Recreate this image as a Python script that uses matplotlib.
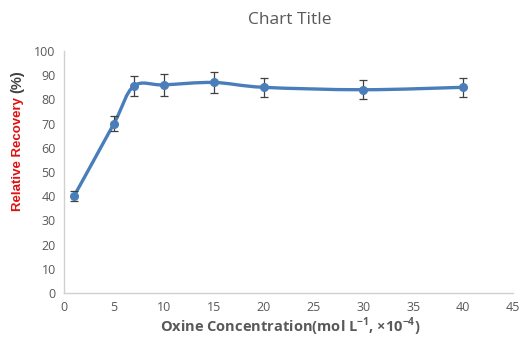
import matplotlib.pyplot as plt
from matplotlib.path import Path
from matplotlib.patches import PathPatch

# values
conc = [1, 5, 7, 10, 15, 20, 30, 40]
recovery = [40, 70, 85.5, 86, 87, 85, 84, 85]
err = [2, 3, 4, 4.5, 4.5, 4, 4, 4]

blue = '#4a7ebb'
grey = '#595959'

plt.rcParams['font.family'] = ['Open Sans', 'DejaVu Sans']
plt.rcParams['mathtext.fontset'] = 'custom'
plt.rcParams['mathtext.rm'] = 'Open Sans'
plt.rcParams['mathtext.bf'] = 'Open Sans:bold'

fig = plt.figure(figsize=(5.22, 3.40), dpi=100)
ax = fig.add_axes([0.1226, 0.138, 0.8604, 0.712])

# smoothed line like excel (catmull-rom style bezier through the points)
pts = list(zip(conc, recovery))
verts = [pts[0]]
codes = [Path.MOVETO]
for i in range(len(pts) - 1):
    p0 = pts[i - 1] if i > 0 else pts[i]
    p1 = pts[i]
    p2 = pts[i + 1]
    p3 = pts[i + 2] if i + 2 < len(pts) else pts[i + 1]
    c1 = (p1[0] + (p2[0] - p0[0]) / 6, p1[1] + (p2[1] - p0[1]) / 6)
    c2 = (p2[0] - (p3[0] - p1[0]) / 6, p2[1] - (p3[1] - p1[1]) / 6)
    verts += [c1, c2, p2]
    codes += [Path.CURVE4] * 3
ax.add_patch(PathPatch(Path(verts, codes), fill=False, edgecolor=blue, lw=2.4,
                       capstyle='round', joinstyle='round', zorder=2))

ax.errorbar(conc, recovery, yerr=err, fmt='none', ecolor='#404040', elinewidth=0.9,
            capsize=3, capthick=0.9, zorder=3)
ax.plot(conc, recovery, 'o', color=blue, ms=5.5, zorder=4)

ax.set_xlim(0, 45)
ax.set_ylim(0, 100)
ax.set_xticks(range(0, 46, 5))
ax.set_yticks(range(0, 101, 10))
ax.tick_params(length=0, labelsize=9, colors=grey, pad=6)
for s in ['top', 'right']:
    ax.spines[s].set_visible(False)
for s in ['left', 'bottom']:
    ax.spines[s].set_color('#d0d0d0')
    ax.spines[s].set_linewidth(1)

fig.text(0.555, 0.94, 'Chart Title', ha='center', va='center', fontsize=12.5, color=grey)
fig.text(0.556, 0.038, r'Oxine Concentration(mol L$^{\mathbf{-1}}$, ×10$^{\mathbf{-4}}$)',
         ha='center', va='center', fontsize=10.5, fontweight='bold', color=grey)

# y label: red part then the dark "(%)" right after it
ylab = fig.text(0.034, 0.38, 'Relative Recovery', rotation=90, ha='center', va='bottom',
                fontsize=9.5, fontweight='bold', color='#e01010', family='Liberation Sans')
ax.annotate('(%)', xy=(0.5, 1), xycoords=ylab, xytext=(0, 3), textcoords='offset points',
            rotation=90, ha='center', va='bottom', fontsize=10.5, fontweight='bold',
            color='#404040', family='Liberation Sans', annotation_clip=False)

fig.savefig('out.png', dpi=100)
